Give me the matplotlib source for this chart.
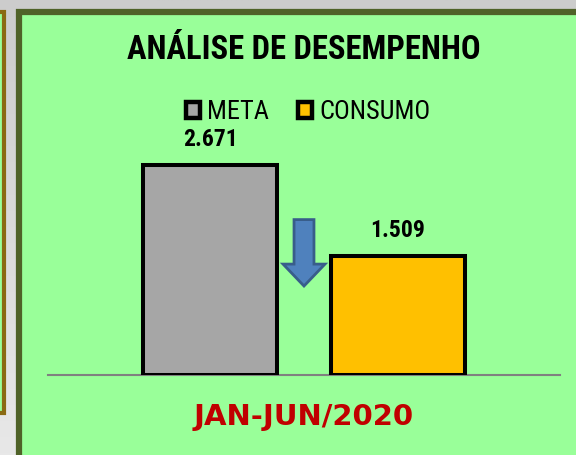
import numpy as np
import matplotlib
matplotlib.use("Agg")
import matplotlib.pyplot as plt
from matplotlib import font_manager
from matplotlib.patches import Rectangle, FancyArrow, Patch

categories = ["META", "CONSUMO"]
values = [2671, 1509]
value_labels = ["2.671", "1.509"]
bar_colors = ["#a6a6a6", "#ffc000"]
title = "ANÁLISE DE DESEMPENHO"
period = "JAN-JUN/2020"

names = {f.name for f in font_manager.fontManager.ttflist}
narrow = "DejaVu Sans"
for cand in ["Liberation Sans Narrow", "Roboto Condensed", "DejaVu Sans Condensed", "Liberation Sans"]:
    if cand in names:
        narrow = cand
        break

W, H = 576, 455
fig = plt.figure(figsize=(W / 100, H / 100), dpi=100)

def fx(px):
    return px / W

def fy(py):
    return 1 - py / H

# background
bg = fig.add_axes([0, 0, 1, 1], zorder=0)
bg.set_xlim(0, W)
bg.set_ylim(H, 0)
bg.axis("off")
grad = np.linspace(0, 1, 256).reshape(-1, 1)
c0 = np.array([0.80, 0.80, 0.80])
c1 = np.array([0.91, 0.91, 0.91])
img = c0 + (c1 - c0) * grad[..., None]
bg.imshow(np.repeat(img, 2, axis=1), extent=[0, W, H, 0], aspect="auto")
bg.add_patch(Rectangle((-40, 12), 44, 401, facecolor="#99ff99", edgecolor="#8a6a12", lw=3))
bg.add_patch(Rectangle((19, 12), 600, 500, facecolor="#99ff99", edgecolor="#4f6228", lw=4.5))

# chart axes
ax = fig.add_axes([fx(48), fy(375), fx(560) - fx(48), fy(60) - fy(375)], zorder=2)
ax.patch.set_alpha(0)
x = np.arange(len(values))
bars = ax.bar(x, values, width=0.713, color=bar_colors, edgecolor="black", linewidth=2.9,
              label=categories, zorder=3)
ax.set_xlim(-0.862, 1.862)
ax.set_ylim(0, max(values) * 1.5)
for s in ["top", "left", "right"]:
    ax.spines[s].set_visible(False)
ax.spines["bottom"].set_color("#808080")
ax.spines["bottom"].set_linewidth(1.5)
ax.set_xticks([])
ax.set_yticks([])

for xi, v, lab in zip(x, values, value_labels):
    ax.annotate(lab, (xi, v), xytext=(0, 10), textcoords="offset points", ha="center",
                va="bottom", fontsize=17, fontweight="bold", family=narrow)

# arrow between bars
ax_mid = (x[0] + x[1]) / 2
top = values[0] * 0.74
tip = values[1] * 0.75
hl = (top - tip) * 0.33
ax.add_patch(FancyArrow(ax_mid, top, 0, -(top - tip), width=0.106, head_width=0.223,
                        head_length=hl, length_includes_head=True,
                        facecolor="#4f81bd", edgecolor="#385d8a", lw=2, zorder=4))

fig.text(fx(304), fy(50), title, ha="center", va="center", fontsize=23.5,
         fontweight="bold", family=narrow)

handles = [Patch(facecolor=c, edgecolor="black", linewidth=3.2) for c in bar_colors]
fig.legend(handles, categories, loc="center", bbox_to_anchor=(fx(308), fy(112)), ncol=2,
           frameon=False, prop={"family": narrow, "size": 19}, handlelength=0.55,
           handleheight=0.55, handletextpad=0.25, columnspacing=1.1)

fig.text(fx(304), fy(417), period, ha="center", va="center", fontsize=21,
         fontweight="bold", color="#c00000", family="DejaVu Sans")

fig.savefig("out.png", dpi=100)
